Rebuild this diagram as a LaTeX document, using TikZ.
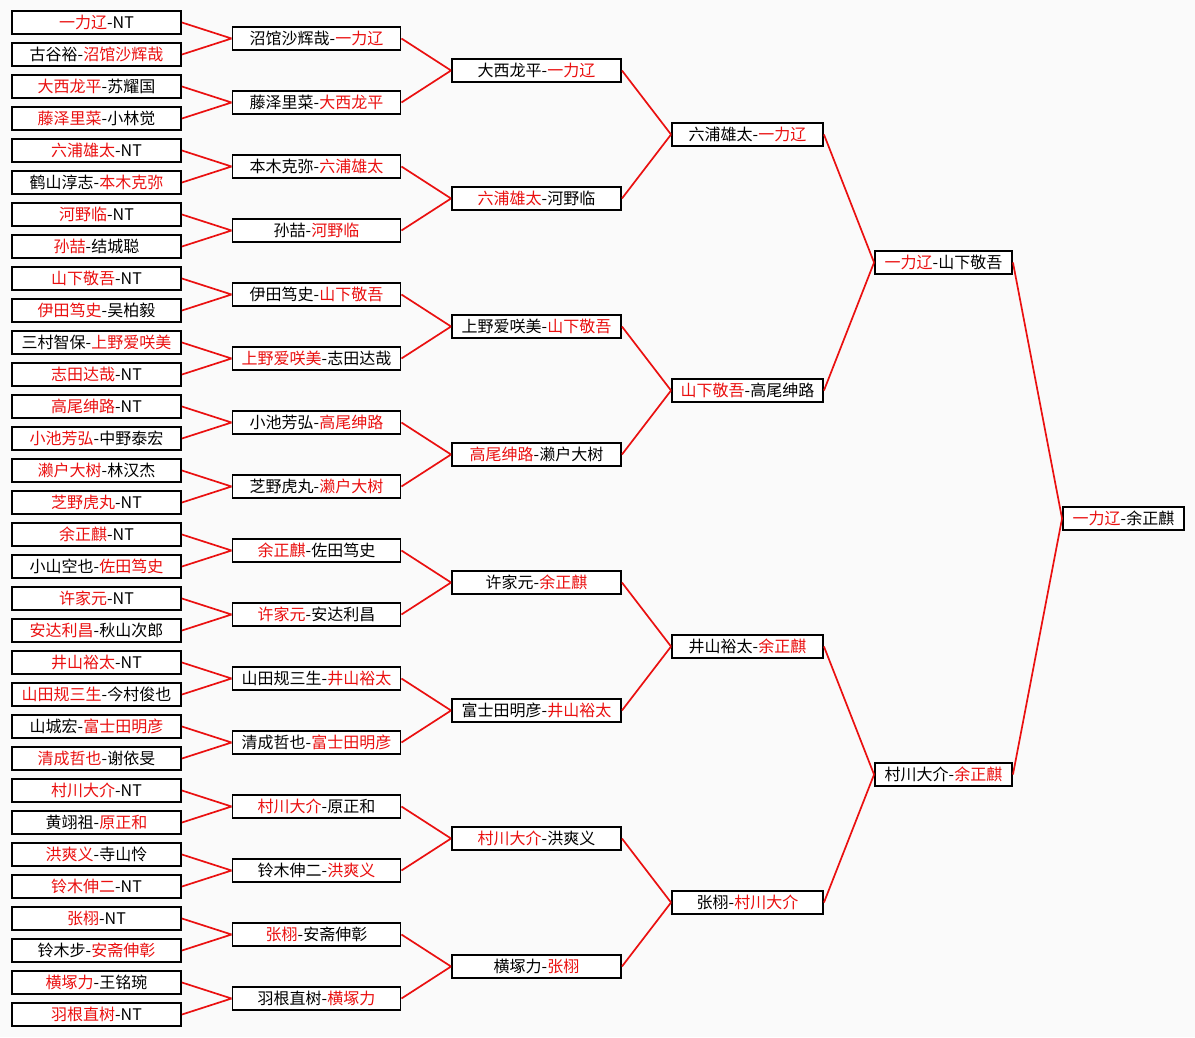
\documentclass[tikz,border=0pt]{standalone}
\usepackage{fontspec}
\setmainfont{Noto Sans CJK SC}
\usepackage{xcolor}
\definecolor{BracketRed}{HTML}{EA1010}
\definecolor{BracketPaper}{HTML}{FAFAFA}
\newcommand{\won}[1]{\textcolor{BracketRed}{#1}}
\tikzset{
  player/.style={draw=black,line width=1.9pt,fill=white,inner sep=0pt,minimum height=23pt,font=\fontsize{16}{16}\selectfont},
  roundA/.style={player,minimum width=169pt},
  roundB/.style={player,minimum width=168pt},
  roundC/.style={player,minimum width=169pt},
  roundD/.style={player,minimum width=151pt},
  roundE/.style={player,minimum width=137pt},
  final/.style={player,minimum width=121pt},
  advance/.style={draw=BracketRed,line width=1.7pt}
}

\begin{document}
\begin{tikzpicture}[x=1pt,y=-1pt]
  \useasboundingbox (0,0) rectangle (1195,1037);
  \fill[BracketPaper] (0,0) rectangle (1195,1037);

  % first round
  \foreach \t [count=\i from 0] in {
      \won{一力辽}-NT, 古谷裕-\won{沼馆沙辉哉}, \won{大西龙平}-苏耀国, \won{藤泽里菜}-小林觉,
      \won{六浦雄太}-NT, 鹤山淳志-\won{本木克弥}, \won{河野临}-NT, \won{孙喆}-结城聪,
      \won{山下敬吾}-NT, \won{伊田笃史}-吴柏毅, 三村智保-\won{上野爱咲美}, \won{志田达哉}-NT,
      \won{高尾绅路}-NT, \won{小池芳弘}-中野泰宏, \won{濑户大树}-林汉杰, \won{芝野虎丸}-NT,
      \won{余正麒}-NT, 小山空也-\won{佐田笃史}, \won{许家元}-NT, \won{安达利昌}-秋山次郎,
      \won{井山裕太}-NT, \won{山田规三生}-今村俊也, 山城宏-\won{富士田明彦}, \won{清成哲也}-谢依旻,
      \won{村川大介}-NT, 黄翊祖-\won{原正和}, \won{洪爽义}-寺山怜, \won{铃木伸二}-NT,
      \won{张栩}-NT, 铃木步-\won{安斋伸彰}, \won{横塚力}-王铭琬, \won{羽根直树}-NT}
    \node[roundA] (a\i) at (96.5,22.5+32*\i) {\t};

  % second round
  \foreach \t [count=\i from 0, evaluate=\i as \j using int(2*\i), evaluate=\i as \k using int(2*\i+1)] in {
      沼馆沙辉哉-\won{一力辽}, 藤泽里菜-\won{大西龙平}, 本木克弥-\won{六浦雄太}, 孙喆-\won{河野临},
      伊田笃史-\won{山下敬吾}, \won{上野爱咲美}-志田达哉, 小池芳弘-\won{高尾绅路}, 芝野虎丸-\won{濑户大树},
      \won{余正麒}-佐田笃史, \won{许家元}-安达利昌, 山田规三生-\won{井山裕太}, 清成哲也-\won{富士田明彦},
      \won{村川大介}-原正和, 铃木伸二-\won{洪爽义}, \won{张栩}-安斋伸彰, 羽根直树-\won{横塚力}} {
    \node[roundB] (b\i) at (316.5,38.5+64*\i) {\t};
    \draw[advance] (a\j.east) -- (b\i.west) (a\k.east) -- (b\i.west);
  }

  % third round
  \foreach \t [count=\i from 0, evaluate=\i as \j using int(2*\i), evaluate=\i as \k using int(2*\i+1)] in {
      大西龙平-\won{一力辽}, \won{六浦雄太}-河野临, 上野爱咲美-\won{山下敬吾}, \won{高尾绅路}-濑户大树,
      许家元-\won{余正麒}, 富士田明彦-\won{井山裕太}, \won{村川大介}-洪爽义, 横塚力-\won{张栩}} {
    \node[roundC] (c\i) at (536.5,70.5+128*\i) {\t};
    \draw[advance] (b\j.east) -- (c\i.west) (b\k.east) -- (c\i.west);
  }

  % quarter finals
  \foreach \t [count=\i from 0, evaluate=\i as \j using int(2*\i), evaluate=\i as \k using int(2*\i+1)] in {
      六浦雄太-\won{一力辽}, \won{山下敬吾}-高尾绅路, 井山裕太-\won{余正麒}, 张栩-\won{村川大介}} {
    \node[roundD] (d\i) at (747.5,134.5+256*\i) {\t};
    \draw[advance] (c\j.east) -- (d\i.west) (c\k.east) -- (d\i.west);
  }

  % semi finals
  \foreach \t [count=\i from 0, evaluate=\i as \j using int(2*\i), evaluate=\i as \k using int(2*\i+1)] in {
      \won{一力辽}-山下敬吾, 村川大介-\won{余正麒}} {
    \node[roundE] (e\i) at (943.5,262.5+512*\i) {\t};
    \draw[advance] (d\j.east) -- (e\i.west) (d\k.east) -- (e\i.west);
  }

  % final
  \node[final] (f0) at (1123.5,518.5) {\won{一力辽}-余正麒};
  \draw[advance] (e0.east) -- (f0.west) (e1.east) -- (f0.west);
\end{tikzpicture}
\end{document}
